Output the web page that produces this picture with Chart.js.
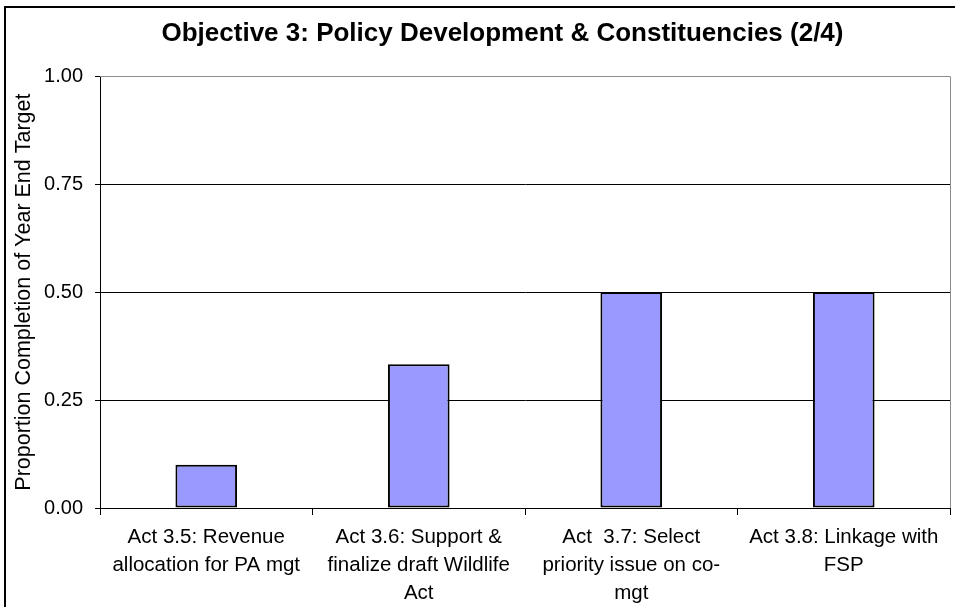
<!DOCTYPE html>
<html>
<head>
<meta charset="utf-8">
<script src="https://cdn.jsdelivr.net/npm/chart.js@4/dist/chart.umd.min.js"></script>
<style>
  html, body { margin: 0; padding: 0; overflow: hidden; background: #fff; }
  canvas { display: block; }
</style>
</head>
<body>
<canvas id="grafico" width="1005" height="607"></canvas>
<script>
// data
const categories = [
	["Act 3.5: Revenue", "allocation for PA mgt"],
	["Act 3.6: Support &", "finalize draft Wildlife", "Act"],
	["Act  3.7: Select", "priority issue on co-", "mgt"],
	["Act 3.8: Linkage with", "FSP"]
];
const values = [0.10, 0.333, 0.50, 0.50];
const yTicks = [0, 0.25, 0.50, 0.75, 1.00];

const titulo = "Objective 3: Policy Development & Constituencies (2/4)";
const tituloY = "Proportion Completion of Year End Target";

const fonte = "Arial, 'Liberation Sans', sans-serif";
Chart.defaults.color = '#000';
Chart.defaults.font.family = fonte;

// white background, outer frame and grey plot border
const moldura = {
	id: 'moldura',
	beforeDraw(chart) {
		const c = chart.ctx;
		c.save();
		c.fillStyle = '#fff';
		c.fillRect(0, 0, chart.width, chart.height);
		c.strokeStyle = '#000';
		c.lineWidth = 2;
		c.strokeRect(5, 7, 994, 640);
		c.restore();
	},
	afterDatasetsDraw(chart) {
		const a = chart.chartArea;
		const c = chart.ctx;
		c.save();
		c.strokeStyle = '#8c8c8c';
		c.lineWidth = 1;
		c.beginPath();
		c.moveTo(a.left, Math.round(a.top) + 0.5);
		c.lineTo(Math.round(a.right) + 0.5, Math.round(a.top) + 0.5);
		c.lineTo(Math.round(a.right) + 0.5, a.bottom);
		c.stroke();
		c.restore();
	}
};

const ctx = document.getElementById('grafico');
const chartGraph = new Chart(ctx, {
	type: 'bar',
	data: {
		labels: categories,
		datasets: [{
			data: values,
			backgroundColor: '#9999FF',
			borderColor: '#000',
			borderWidth: 2,
			borderSkipped: false,
			barPercentage: 0.29,
			categoryPercentage: 1
		}]
	},
	options: {
		responsive: false,
		animation: false,
		devicePixelRatio: 1,
		layout: { padding: 0 },
		plugins: {
			legend: { display: false },
			tooltip: { enabled: false },
			title: {
				display: true,
				text: titulo,
				color: '#000',
				font: { size: 26, weight: 'bold', family: fonte, lineHeight: 1.2 },
				padding: { top: 18, bottom: 27 }
			}
		},
		scales: {
			x: {
				grid: {
					offset: true,
					drawOnChartArea: false,
					drawTicks: true,
					tickLength: 7,
					color: '#000'
				},
				border: { color: '#000', width: 1 },
				ticks: {
					font: { size: 20.5, family: fonte, lineHeight: 1.37 },
					padding: 8,
					maxRotation: 0,
					autoSkip: false
				},
				afterFit(scale) { scale.height = 99; }
			},
			y: {
				min: 0,
				max: 1,
				afterBuildTicks(scale) { scale.ticks = yTicks.map(v => ({ value: v })); },
				grid: {
					color: c => (c.tick && c.tick.value === 1 ? '#8c8c8c' : '#000'),
					tickColor: '#000',
					tickLength: 5,
					lineWidth: 1
				},
				border: { color: '#000', width: 1 },
				ticks: {
					font: { size: 20, family: fonte },
					padding: 12,
					callback: v => Number(v).toFixed(2)
				},
				title: {
					display: true,
					text: tituloY,
					font: { size: 21.5, family: fonte, lineHeight: 1.2 },
					padding: { top: 11, bottom: 0 }
				},
				afterFit(scale) { scale.width = 100; }
			},
			// empty space on the right so the plot ends where the picture's does
			direita: {
				type: 'linear',
				position: 'right',
				grid: { display: false },
				border: { display: false },
				ticks: { display: false },
				afterFit(scale) { scale.width = 55; }
			}
		}
	},
	plugins: [moldura]
});
</script>
</body>
</html>
